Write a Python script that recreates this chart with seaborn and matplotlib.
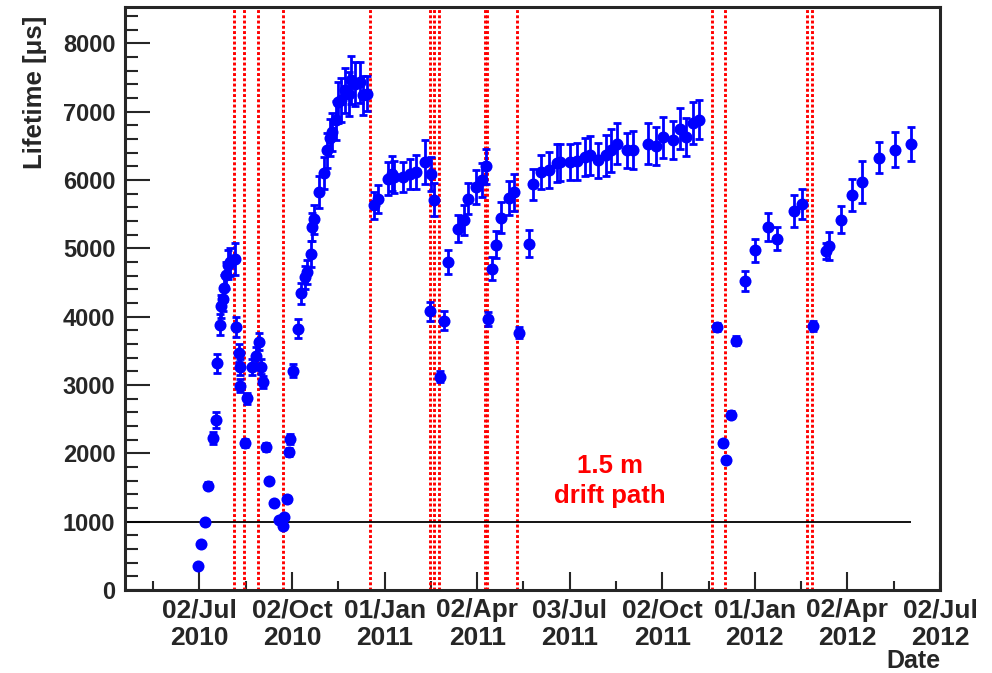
import numpy as np
import pandas as pd
import matplotlib
matplotlib.use("Agg")
import matplotlib.pyplot as plt
import matplotlib.ticker as mticker
import matplotlib.dates as mdates
import seaborn as sns

sns.set_style("ticks")
plt.rcParams['font.family'] = ['Liberation Sans', 'DejaVu Sans']
plt.rcParams['font.weight'] = 'bold'

# 数据：相对 2010-07-02 的天数、寿命 [us]、误差
t0 = pd.Timestamp("2010-07-02")
day = [-1, 2, 5, 8, 13, 16, 17, 20, 21, 23, 24, 26, 28, 30, 35,
       36, 39, 40, 40, 45, 47, 52, 56, 59, 61, 63, 66, 69, 74, 79,
       82, 83, 86, 88, 89, 92, 97, 100, 104, 106, 110, 111, 113, 118, 123,
       126, 129, 131, 135, 137, 140, 144, 148, 150, 154, 158, 161, 165,
       172, 176, 186, 190, 192, 201, 208, 214, 223, 228, 229, 232, 237, 241,
       245, 255, 261, 265, 273, 279, 283, 285, 289, 293, 298, 306, 310,
       315, 325, 329, 337, 345, 353, 356, 366, 373, 381, 386, 393, 401,
       406, 412, 422, 428, 443, 451, 458, 467, 474, 480, 487, 493,
       511, 517, 520, 525, 530, 539, 548, 561, 570, 587, 595,
       606, 618, 621, 633, 644, 654, 671, 687, 702]
lifetime = [356, 673, 990, 1527, 2225, 2489, 3318, 3884, 4148, 4260, 4422, 4602, 4758, 4797, 4846,
            3845, 3464, 3259, 2991, 2146, 2805, 3259, 3430, 3635, 3269, 3040, 2098, 1600, 1268, 1025,
            941, 1063, 1332, 2015, 2211, 3211, 3821, 4340, 4577, 4650, 4909, 5309, 5422, 5821, 6100,
            6432, 6618, 6700, 6871, 7139, 7164, 7310, 7262, 7457, 7408, 7432, 7237, 7262,
            5630, 5720, 6018, 6091, 6041, 6041, 6091, 6114, 6261, 4079, 6091, 5710, 3123, 3943,
            4797, 5286, 5417, 5725, 5895, 6003, 6198, 3968, 4700, 5051, 5447, 5739, 5821,
            3763, 5066, 5935, 6114, 6149, 6246, 6261, 6261, 6275, 6334, 6359, 6285, 6359,
            6432, 6530, 6432, 6442, 6530, 6491, 6627, 6589, 6750, 6627, 6832, 6882,
            3845, 2146, 1903, 2567, 3650, 4518, 4968, 5309, 5139, 5543, 5652,
            3860, 4958, 5031, 5417, 5778, 5968, 6325, 6442, 6520]
err = [15, 25, 35, 50, 90, 120, 140, 160, 170, 180, 190, 200, 210, 200, 230,
       150, 130, 120, 100, 60, 80, 120, 130, 120, 110, 90, 60, 40, 35, 30,
       30, 30, 40, 60, 70, 100, 140, 150, 170, 180, 190, 200, 210, 230, 240,
       260, 270, 280, 290, 300, 320, 330, 320, 350, 320, 300, 280, 260,
       200, 200, 240, 260, 230, 220, 220, 250, 320, 140, 250, 240, 80, 140,
       180, 200, 220, 230, 250, 250, 260, 100, 170, 200, 230, 250, 270,
       80, 200, 230, 250, 260, 280, 270, 260, 270, 280, 280, 260, 300,
       320, 300, 260, 280, 300, 280, 300, 280, 300, 280, 310, 290,
       60, 40, 40, 50, 60, 150, 170, 200, 170, 230, 220,
       70, 120, 200, 200, 230, 310, 230, 260, 250]

# 红色虚线（事件日期，相对天数）
event_day = [34, 44, 58, 82.6, 168, 227.8, 231.7, 236.6, 281.6, 283.6, 313.3,
             506.2, 519, 599.5, 604.5]

tick_labels = ["02/Jul\n2010", "02/Oct\n2010", "01/Jan\n2011", "02/Apr\n2011",
               "03/Jul\n2011", "02/Oct\n2011", "01/Jan\n2012", "02/Apr\n2012",
               "02/Jul\n2012"]

df = pd.DataFrame({"date": t0 + pd.to_timedelta(day, unit="D"),
                   "lifetime": lifetime, "err": err})

fig = plt.figure(figsize=(9.92, 6.73), dpi=100)
ax = fig.add_axes([125/992, 1 - 590/673, 815/992, 583/673])

for d in event_day:
    ax.axvline(t0 + pd.Timedelta(days=d), color="red", lw=2.1,
               linestyle=(0, (1.0, 0.8)), zorder=1)

ax.hlines(1000, t0 - pd.Timedelta(days=80), df["date"].iloc[-1],
          color="black", lw=1.3, zorder=2)

ax.errorbar(df["date"], df["lifetime"], yerr=df["err"], fmt="none",
            ecolor="blue", elinewidth=2.0, capsize=3.0, capthick=2.0, zorder=3)
sns.scatterplot(data=df, x="date", y="lifetime", ax=ax, color="blue",
                s=75, linewidth=0, zorder=4, legend=False)

ax.set_xlim(t0 - pd.Timedelta(days=73.5), t0 + pd.Timedelta(days=731))
ax.set_ylim(0, 8530)

step = 91.375
major = [mdates.date2num(t0 + pd.Timedelta(days=k * step)) for k in range(9)]
minor = [mdates.date2num(t0 + pd.Timedelta(days=(k - 0.5) * step)) for k in range(9)]
ax.xaxis.set_major_locator(mticker.FixedLocator(major))
ax.xaxis.set_minor_locator(mticker.FixedLocator(minor))
ax.set_xticklabels(tick_labels, fontsize=19, fontweight="bold", linespacing=1.2)
ax.yaxis.set_major_locator(mticker.MultipleLocator(1000))
ax.yaxis.set_minor_locator(mticker.MultipleLocator(200))
for lab in ax.get_yticklabels():
    lab.set_fontsize(17)
    lab.set_fontweight("bold")

ax.tick_params(axis="y", which="major", direction="in", length=18, width=1.5, pad=7)
ax.tick_params(axis="y", which="minor", direction="in", length=9, width=1.5)
ax.tick_params(axis="x", which="major", direction="in", length=13, width=1.5, pad=6)
ax.tick_params(axis="x", which="minor", direction="in", length=6.5, width=1.5)
ax.tick_params(top=False, right=False, which="both")
for sp in ax.spines.values():
    sp.set_linewidth(2.2)
    sp.set_visible(True)

ax.set_xlabel("")
ax.set_ylabel("Lifetime [\u03bcs]", fontsize=18.5, fontweight="bold", loc="top")
ax.yaxis.set_label_coords(-0.096, 0.985)

ax.text(0.595, 0.187, "1.5 m\ndrift path", transform=ax.transAxes, color="red",
        fontsize=18.5, fontweight="bold", ha="center", va="center", linespacing=1.35)
fig.text(913/992, 1 - 661/673, "Date", fontsize=18, fontweight="bold",
         ha="center", va="center")

fig.savefig("out.png", dpi=100)
